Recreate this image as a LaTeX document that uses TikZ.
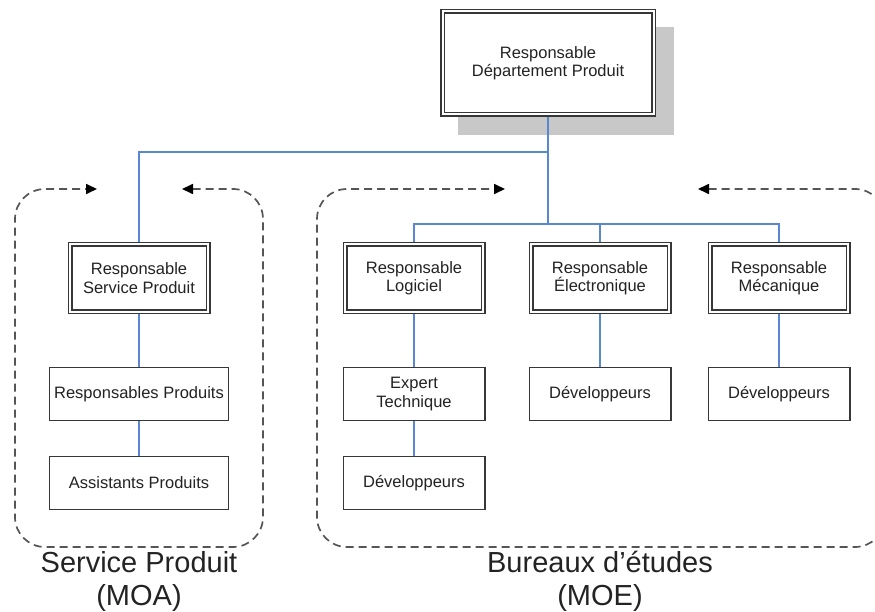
\documentclass[tikz,border=0pt]{standalone}
\usepackage{fontspec}
\setmainfont{Liberation Sans}
\usetikzlibrary{positioning}
\usetikzlibrary{arrows.meta}
\definecolor{lienbleu}{RGB}{90,135,210}
\definecolor{cadregris}{RGB}{55,55,55}
\definecolor{tiretgris}{RGB}{85,85,85}
\definecolor{ombregris}{RGB}{200,200,200}
\definecolor{textegris}{RGB}{35,35,35}
\pgfdeclarelayer{organigbg}
\pgfsetlayers{organigbg,main}

\begin{document}
\begin{tikzpicture}[x=1pt,y=-1pt,
	chef/.style={draw=cadregris, double=white, double distance=2pt, line width=1.5pt, fill=white, minimum width=138pt, minimum height=67pt, inner sep=2pt, outer sep=2.5pt, align=center, text=textegris, font=\fontsize{16.5}{18.5}\selectfont},
	tete/.style={chef, minimum width=211pt, minimum height=103pt},
	equipe/.style={draw=cadregris, line width=1.4pt, fill=white, minimum width=141.6pt, minimum height=52.6pt, inner sep=2pt, outer sep=0.7pt, align=center, text=textegris, font=\fontsize{16.5}{18.5}\selectfont},
	large/.style={minimum width=178.6pt},
	lien/.style={draw=lienbleu, line width=1.3pt},
	zone/.style={draw=tiretgris, line width=1.7pt, dash pattern=on 8pt off 5pt, rounded corners=30pt, {Triangle[length=11pt,width=10pt,color=black]}-{Triangle[length=11pt,width=10pt,color=black]}},
	titre/.style={align=center, inner sep=0pt, text=textegris, font=\fontsize{29}{33}\selectfont}]
	\useasboundingbox (0,0) rectangle (875,612);
	\node[tete] at (548,63) (top) {Responsable\\Département Produit};
	\node[chef] at (139,278) (respsp) {Responsable\\Service Produit};
	\node[equipe, large, below=53pt of respsp] (respprod) {Responsables Produits}; \node[equipe, large, below=35pt of respprod] (assist) {Assistants Produits};
	\node[chef] at (414,278) (resplog) {Responsable\\Logiciel}; \node[chef, right=43pt of resplog] (respelec) {Responsable\\Électronique}; \node[chef, right=36pt of respelec] (respmec) {Responsable\\Mécanique};
	\node[equipe, below=53pt of resplog] (expert) {Expert\\Technique}; \node[equipe, below=35pt of expert] (devlog) {Développeurs};
	\node[equipe, below=53pt of respelec] (develec) {Développeurs}; \node[equipe, below=53pt of respmec] (devmec) {Développeurs};
	\node[titre] at (139,581) (moa) {Service Produit\\(MOA)}; \node[titre] at (600,581) (moe) {Bureaux d’études\\(MOE)};
	
	\begin{pgfonlayer}{organigbg}
		\fill[ombregris] ([shift={(18,18)}]top.north west) rectangle ([shift={(18,18)}]top.south east);
	\end{pgfonlayer}
	
	\coordinate (j1) at (top.south |- 0,152); \coordinate (j2) at (top.south |- 0,224);
	\draw[lien] (top.south) -- (j1) -| (respsp.north); \draw[lien] (j1) -- (j2) -| (resplog.north); \draw[lien] (j2) -| (respelec.north); \draw[lien] (j2) -| (respmec.north);
	\draw[lien] (respsp.south) -- (respprod.north); \draw[lien] (respprod.south) -- (assist.north);
	\draw[lien] (resplog.south) -- (expert.north); \draw[lien] (expert.south) -- (devlog.north); \draw[lien] (respelec.south) -- (develec.north); \draw[lien] (respmec.south) -- (devmec.north);
	
	% zones MOA / MOE
	\draw[zone] (182,189) -- (263,189) -- (263,547) -- (15,547) -- (15,189) -- (97,189);
	\draw[zone] (698,189) -- (885,189) -- (885,547) -- (317,547) -- (317,189) -- (505,189);
\end{tikzpicture}
\end{document}
